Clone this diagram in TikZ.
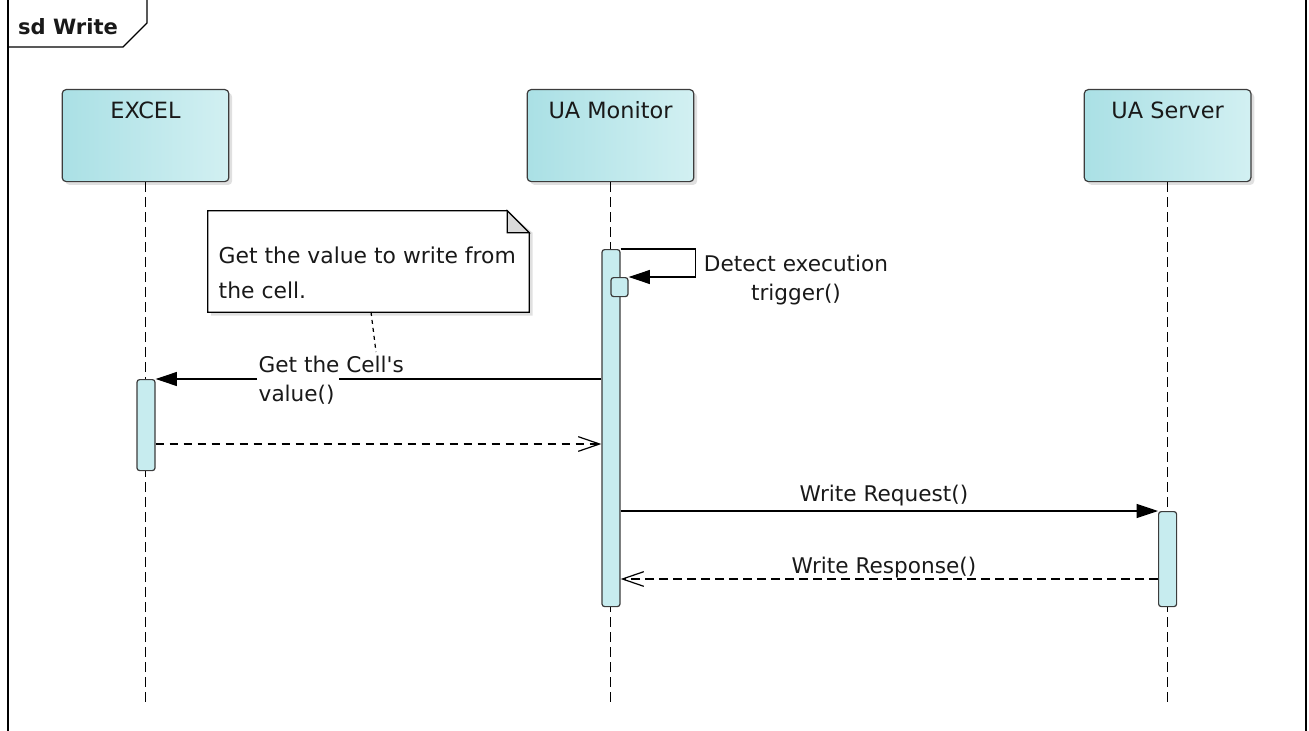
\documentclass[tikz,border=0pt]{standalone}
\usepackage{fontspec}
\setmainfont{DejaVu Sans}
\usetikzlibrary{arrows.meta, shadows}
\definecolor{partleft}{RGB}{170, 224, 229}
\definecolor{partright}{RGB}{210, 240, 242}
\definecolor{actfill}{RGB}{199, 236, 239}
\definecolor{edgegray}{RGB}{60, 60, 60}
\definecolor{foldgray}{RGB}{218, 218, 218}

\begin{document}
\begin{tikzpicture}[
    x=0.75pt, y=-0.75pt,
    every node/.append style={font=\fontsize{16.2}{21.75}\selectfont, text=black!90},
  ]

  \tikzset{
    participant/.style={
      draw=edgegray, line width=0.9pt, rounded corners=3pt,
      left color=partleft, right color=partright,
      drop shadow={shadow xshift=2.5pt, shadow yshift=-2.5pt, fill=black, opacity=0.12},
      minimum width=125pt, text height=16pt, text depth=41.5pt,
      inner ysep=5.75pt, anchor=north,
      font=\fontsize{16.8}{21.75}\selectfont,
    },
    actbar/.style={
      draw=edgegray, fill=actfill, line width=0.9pt, rounded corners=2pt,
      minimum width=13.5pt, inner sep=0pt, anchor=north,
    },
    lifeline/.style={line width=0.9pt, dash pattern=on 7.5pt off 3.75pt},
    msg/.style={line width=0.9pt},
    call/.style={msg, -{Triangle[length=16pt, width=10.5pt]}},
    reply/.style={msg, dash pattern=on 6.5pt off 4pt,
      -{Straight Barb[length=16pt, width=11pt]}},
    notelink/.style={line width=0.9pt, dash pattern=on 3pt off 3pt},
    framelabel/.style={font=\fontsize{15.8}{21.75}\selectfont\bfseries},
  }

  \useasboundingbox (0, 0) rectangle (1309, 731);

  %% ---------------- FRAME ----------------
  \draw[line width=0.9pt] (8, -5) -- (8, 740);
  \draw[line width=0.9pt] (1306, -5) -- (1306, 740);
  \draw[line width=0.9pt] (8, 47) -- (123, 47) -- (147, 23) -- (147, -5);
  \node[framelabel] (sdlabel) at (68, 27) {sd Write};

  %% ---------------- PARTICIPANTS ----------------
  \node[participant] (excel) at (145.5, 89) {EXCEL};
  \node[participant] (monitor) at (610.5, 89) {UA Monitor};
  \node[participant] (server) at (1167.6, 89) {UA Server};

  % lifelines
  \foreach \p in {excel, monitor, server} {
    \coordinate (\p-end) at (\p.south |- 0, 703);
    \draw[lifeline] (\p.south) -- (\p-end);
  }

  %% ---------------- ACTIVATIONS ----------------
  \node[actbar, minimum height=267.75pt] (monbar) at (611, 249) {};
  \node[actbar, minimum width=12.75pt, minimum height=14.25pt] (trigbar) at (619.5, 277) {};
  \node[actbar, minimum height=68.25pt] (excelbar) at (146, 379) {};
  \node[actbar, minimum height=71.25pt] (serverbar) at (1167.6, 511) {};

  %% ---------------- NOTE ----------------
  \node[minimum width=240.75pt, minimum height=75.75pt, inner sep=0pt] (note) at (368.5, 261.5) {};
  % shadow
  \fill[black!12] ([shift={(2.5pt, -2.5pt)}]note.north west)
    -- ([shift={(-14pt, -2.5pt)}]note.north east)
    -- ([shift={(2.5pt, -16.5pt)}]note.north east)
    -- ([shift={(2.5pt, -2.5pt)}]note.south east)
    -- ([shift={(2.5pt, -2.5pt)}]note.south west) -- cycle;
  % body
  \draw[fill=white, line width=0.9pt] (note.north west)
    -- ([xshift=-16.5pt]note.north east)
    -- ([yshift=-16.5pt]note.north east)
    -- (note.south east) -- (note.south west) -- cycle;
  % folded corner
  \draw[fill=foldgray, line width=0.9pt] ([xshift=-16.5pt]note.north east)
    -- ([xshift=-16.5pt, yshift=-16.5pt]note.north east)
    -- ([yshift=-16.5pt]note.north east) -- cycle;
  \node[anchor=base west, align=left, font=\fontsize{16.4}{26.25}\selectfont]
    (notetext) at (214, 298) {Get the value to write from\\the cell.};

  %% ---------------- MESSAGES ----------------
  % self call
  \draw[call] (monbar.north east) -- ++(75, 0) |- (trigbar.north east);
  \node[align=center] (trigmsg) at (796, 280) {Detect execution\\trigger()};

  % monitor -> excel, line broken round its label
  \coordinate (cellmsg-r) at (339, 379);
  \coordinate (cellmsg-l) at (257, 379);
  \coordinate (cellmsg-start) at (monbar.west |- excelbar.north);
  \draw[msg] (cellmsg-start) -- (cellmsg-r);
  \draw[call] (cellmsg-l) -- (excelbar.north east);
  \node[anchor=west, align=left] (cellmsg) at (254, 380)
    {Get the Cell\textquotesingle s\\value()};

  % note link
  \coordinate (notelink-end) at (378, 379);
  \draw[notelink] (371, 312) -- (376, 352);

  % excel -> monitor reply
  \coordinate (cellret-start) at (excelbar.east |- 0, 444);
  \coordinate (cellret-end) at (monbar.west |- 0, 444);
  \draw[reply] (cellret-start) -- (cellret-end);

  % monitor -> server
  \coordinate (writereq-start) at (monbar.east |- serverbar.north);
  \draw[call] (writereq-start) -- (serverbar.north west)
    node[pos=0.49, above=0pt] (writereq) {Write Request()};

  % server -> monitor reply
  \coordinate (writeres-start) at (serverbar.west |- 0, 579);
  \coordinate (writeres-end) at (monbar.east |- 0, 579);
  \draw[reply] (writeres-start) -- (writeres-end)
    node[pos=0.51, above=-3pt] (writeres) {Write Response()};

\end{tikzpicture}
\end{document}
